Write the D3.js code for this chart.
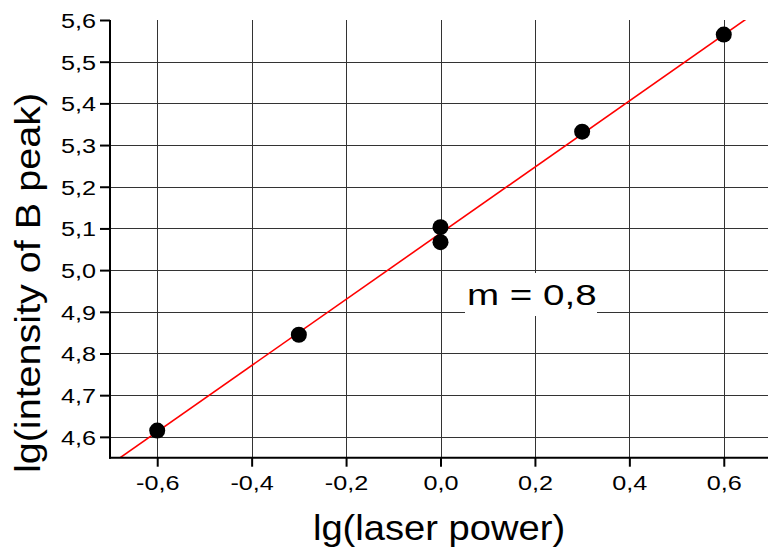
<!DOCTYPE html>
<html>
<head>
<meta charset="utf-8">
<script src="https://cdn.jsdelivr.net/npm/d3@7"></script>
<style>
  body { margin: 0; background: #fff; }
  text { font-family: "Liberation Sans", Arial, sans-serif; fill: #000; }
</style>
</head>
<body>
<div id="chart"></div>
<script>
// data
var logPower = [-0.6, -0.3, 0.0, 0.0, 0.3, 0.6];
var logIntensity = [4.615, 4.845, 5.103, 5.067, 5.332, 5.565];

// linear fit, slope m = 0,8 (two end points of the red line)
var fitX = [-0.7, 0.7];
var fitY = [4.533, 5.644];

var xTicks = [-0.6, -0.4, -0.2, 0.0, 0.2, 0.4, 0.6];
var xMinor = [-0.5, -0.3, -0.1, 0.1, 0.3, 0.5];
var yTicks = [4.6, 4.7, 4.8, 4.9, 5.0, 5.1, 5.2, 5.3, 5.4, 5.5, 5.6];
var yMinor = [4.65, 4.75, 4.85, 4.95, 5.05, 5.15, 5.25, 5.35, 5.45, 5.55];

var width = 768;
var height = 556;

var x = d3.scaleLinear().domain([-0.7, 0.7]).range([110, 771]);
var y = d3.scaleLinear().domain([4.55, 5.6]).range([457.7, 20]);

// comma as decimal mark, plain hyphen for minus
var locale = d3.formatLocale({decimal: ",", thousands: ".", grouping: [3], currency: ["", ""], minus: "-"});
var fmt = locale.format(".1f");

var svg = d3.select("#chart")
    .append("svg")
    .attr("width", width)
    .attr("height", height)
    .style("display", "block");

svg.append("rect").attr("width", width).attr("height", height).attr("fill", "#fff");

svg.append("defs").append("clipPath").attr("id", "plot")
    .append("rect")
    .attr("x", x.range()[0]).attr("y", y.range()[1])
    .attr("width", width - x.range()[0])
    .attr("height", y.range()[0] - y.range()[1]);

// grid
var grid = svg.append("g").attr("stroke", "#333").attr("stroke-width", 1);
grid.selectAll("line.v")
    .data(xTicks)
    .enter().append("line")
    .attr("class", "v")
    .attr("x1", function (d) { return Math.round(x(d)) + 0.5; })
    .attr("x2", function (d) { return Math.round(x(d)) + 0.5; })
    .attr("y1", y.range()[1])
    .attr("y2", y.range()[0]);
grid.selectAll("line.h")
    .data(yTicks.filter(function (d) { return d < 5.59; }))
    .enter().append("line")
    .attr("class", "h")
    .attr("x1", x.range()[0])
    .attr("x2", width)
    .attr("y1", function (d) { return Math.round(y(d)) + 0.5; })
    .attr("y2", function (d) { return Math.round(y(d)) + 0.5; });

// m = 0,8 label with white box over the grid
svg.append("rect")
    .attr("x", 465).attr("y", 273)
    .attr("width", 132).attr("height", 43)
    .attr("fill", "#fff");
svg.append("text")
    .attr("transform", "translate(467,305) scale(1.33,1)")
    .attr("font-size", "29px")
    .text("m = 0,8");

// fit line
svg.append("path")
    .datum(d3.zip(fitX, fitY))
    .attr("clip-path", "url(#plot)")
    .attr("fill", "none")
    .attr("stroke", "#ff0000")
    .attr("stroke-width", 1.6)
    .attr("d", d3.line()
        .x(function (d) { return x(d[0]); })
        .y(function (d) { return y(d[1]); }));

// points
svg.selectAll("circle")
    .data(d3.zip(logPower, logIntensity))
    .enter().append("circle")
    .attr("cx", function (d) { return x(d[0]); })
    .attr("cy", function (d) { return y(d[1]); })
    .attr("r", 8)
    .attr("fill", "#000");

// axes
var bottom = svg.append("g")
    .attr("transform", "translate(0," + y.range()[0] + ")");
bottom.call(d3.axisBottom(x).tickValues(xMinor).tickSize(5).tickFormat(""));
bottom.call(d3.axisBottom(x).tickValues(xTicks).tickSize(9).tickFormat(fmt));

var left = svg.append("g")
    .attr("transform", "translate(" + x.range()[0] + ",0)");
left.call(d3.axisLeft(y).tickValues(yMinor).tickSize(5).tickFormat(""));
left.call(d3.axisLeft(y).tickValues(yTicks).tickSize(10).tickFormat(fmt));

svg.selectAll(".domain").remove();
svg.selectAll(".tick line").attr("stroke", "#000").attr("stroke-width", 2);

bottom.selectAll(".tick text")
    .attr("font-size", "21px")
    .attr("font-family", null)
    .attr("y", 0).attr("dy", null)
    .attr("transform", "translate(0,32) scale(1.2,1)");

left.selectAll(".tick text")
    .attr("font-size", "21px")
    .attr("font-family", null)
    .attr("x", 0).attr("dy", null)
    .attr("transform", "translate(-14,7.5) scale(1.2,1)");

// axis lines
svg.append("line")
    .attr("x1", x.range()[0]).attr("x2", x.range()[0])
    .attr("y1", y.range()[1]).attr("y2", y.range()[0] + 1)
    .attr("stroke", "#000").attr("stroke-width", 2);
svg.append("line")
    .attr("x1", x.range()[0] - 1).attr("x2", width)
    .attr("y1", y.range()[0]).attr("y2", y.range()[0])
    .attr("stroke", "#000").attr("stroke-width", 2);

// axis titles
svg.append("text")
    .attr("transform", "translate(439,540) scale(1.09,1)")
    .attr("text-anchor", "middle")
    .attr("font-size", "35px")
    .text("lg(laser power)");

svg.append("text")
    .attr("transform", "translate(40,283) rotate(-90) scale(1.13,1)")
    .attr("text-anchor", "middle")
    .attr("font-size", "35px")
    .text("lg(intensity of B peak)");
</script>
</body>
</html>
